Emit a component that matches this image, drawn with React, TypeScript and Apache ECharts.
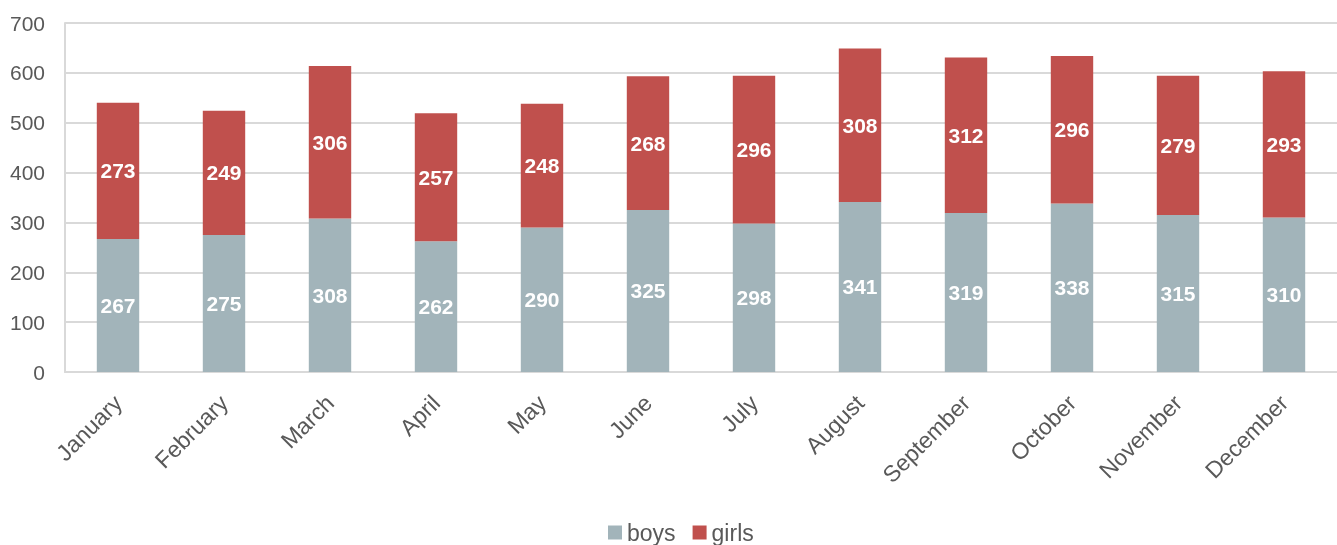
import React, { useEffect, useRef } from "react";
import * as echarts from "echarts";

const months = ["January", "February", "March", "April", "May", "June", "July", "August", "September", "October", "November", "December"];
const boys = [267, 275, 308, 262, 290, 325, 298, 341, 319, 338, 315, 310];
const girls = [273, 249, 306, 257, 248, 268, 296, 308, 312, 296, 279, 293];

export default function App() {
  const ref = useRef<HTMLDivElement>(null);
  useEffect(() => {
    const chart = echarts.init(ref.current!, null, { renderer: "svg" });
    const font = "Liberation Sans, Arial, sans-serif";
    const label = {
      show: true,
      position: "inside",
      color: "#ffffff",
      fontWeight: "bold",
      fontSize: 21,
      fontFamily: font,
    };
    chart.setOption({
      animation: false,
      grid: { left: 65, right: 0, top: 23, bottom: 173, containLabel: false },
      legend: {
        top: 521,
        left: 608,
        itemWidth: 14,
        itemHeight: 14,
        itemGap: 17,
        icon: "rect",
        padding: 0,
        textStyle: { color: "#595959", fontSize: 23, lineHeight: 22, fontFamily: font },
        data: ["boys", "girls"],
      },
      xAxis: {
        type: "category",
        data: months,
        axisLine: { show: true, lineStyle: { color: "#d9d9d9", width: 2 } },
        axisTick: { show: false },
        axisLabel: {
          rotate: 45,
          color: "#595959",
          fontSize: 23,
          fontFamily: font,
          margin: 27,
          interval: 0,
        },
      },
      yAxis: {
        type: "value",
        min: 0,
        max: 700,
        interval: 100,
        axisLine: { show: true, lineStyle: { color: "#d9d9d9", width: 2 } },
        axisTick: { show: false },
        splitLine: { lineStyle: { color: "#d9d9d9", width: 2 } },
        axisLabel: { color: "#595959", fontSize: 21, fontFamily: font, margin: 20 },
      },
      series: [
        {
          name: "boys",
          type: "bar",
          stack: "total",
          barWidth: "40%",
          data: boys,
          itemStyle: { color: "#a2b4ba" },
          label,
        },
        {
          name: "girls",
          type: "bar",
          stack: "total",
          barWidth: "40%",
          data: girls,
          itemStyle: { color: "#c0504d" },
          label,
        },
      ],
    });
    return () => chart.dispose();
  }, []);
  return <div ref={ref} style={{ position: "fixed", left: 0, top: 0, width: 1337, height: 545 }} />;
}
